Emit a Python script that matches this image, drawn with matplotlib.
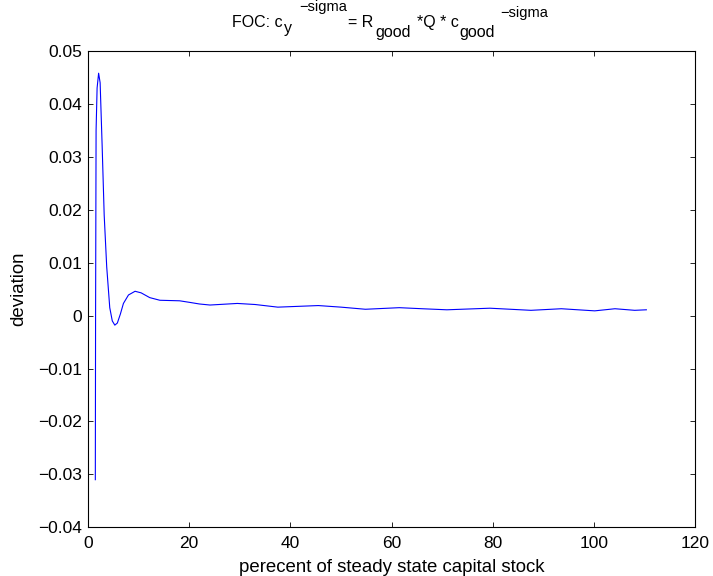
import numpy as np
import matplotlib
matplotlib.use('Agg')
from matplotlib import pyplot as plt

#### datos
capital = [1.45, 1.5, 1.6, 1.8, 2.1, 2.4, 2.8, 3.2, 3.7, 4.3, 4.8, 5.3, 5.8, 6.4,
           7.0, 8.0, 9.3, 10.5, 12.2, 14.2, 18.1, 20.1, 22.0, 24.1, 29.5, 33.0,
           37.5, 45.5, 50.0, 54.8, 61.5, 66.0, 70.9, 79.4, 87.5, 93.5, 100.1,
           104.1, 108.0, 110.3]
deviation = [-0.031, 0.0, 0.035, 0.043, 0.0458, 0.044, 0.032, 0.019, 0.0092,
             0.0015, -0.0010, -0.0018, -0.0014, 0.0003, 0.0023, 0.0039, 0.0046,
             0.0043, 0.0034, 0.0029, 0.0028, 0.0025, 0.0022, 0.0020, 0.0023,
             0.0021, 0.0016, 0.0019, 0.0016, 0.0012, 0.0015, 0.0013, 0.0011,
             0.0014, 0.0010, 0.0013, 0.0009, 0.0013, 0.0010, 0.0011]

xticks = [0, 20, 40, 60, 80, 100, 120]
yticks = [-0.04, -0.03, -0.02, -0.01, 0, 0.01, 0.02, 0.03, 0.04, 0.05]

### titulo estilo MATLAB: (texto, separacion px, linea base px desde arriba, tamaño)
title_parts = [('FOC: c', 0, 26.7, 11.5),
               ('y', 1, 33.3, 11.5),
               ('\u2212sigma', 8, 10.7, 10.5),
               ('= R', 1, 26.7, 11.5),
               ('good', 1.5, 37.0, 11.5),
               ('*Q * c', 6, 26.7, 11.5),
               ('good', 1, 37.0, 11.5),
               ('\u2212sigma', 5, 16.7, 10.5)]

plt.rcParams['font.family'] = ['Liberation Sans', 'DejaVu Sans']

W, H = 713, 576
fig = plt.figure(figsize=(W / 100, H / 100), dpi=100)
ax = fig.add_axes([0.1234, 0.0845, 0.852, 0.827])

ax.plot(capital, deviation, color='blue', lw=0.8)

ax.set_xlim(0, 120)
ax.set_ylim(-0.04, 0.05)
ax.set_xticks(xticks)
ax.set_yticks(yticks)
ax.set_xticklabels([str(t) for t in xticks])
ax.set_yticklabels(['0' if t == 0 else ('%.2f' % t).replace('-', '\u2212') for t in yticks])
ax.tick_params(direction='in', top=True, right=True, labelsize=12.5, length=3.6, width=0.6)
ax.tick_params(axis='x', pad=6)
ax.tick_params(axis='y', pad=4)
for s in ax.spines.values():
    s.set_linewidth(0.8)

ax.set_xlabel('perecent of steady state capital stock', fontsize=13.4, labelpad=6)
ax.set_ylabel('deviation', fontsize=13.4, labelpad=8)

### el titulo pieza por pieza, cada una despues de la anterior
renderer = fig.canvas.get_renderer()
x = 232.0
for txt, gap, base, size in title_parts:
    x += gap
    t = fig.text(x / W, 1 - base / H, txt, fontsize=size, ha='left', va='baseline')
    x += t.get_window_extent(renderer).width

plt.savefig('out.png', dpi=100)
